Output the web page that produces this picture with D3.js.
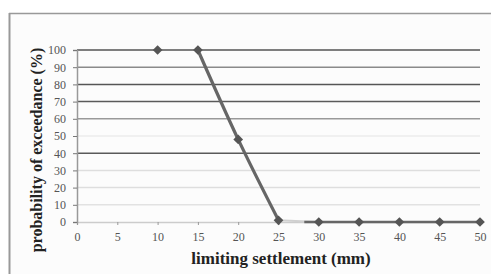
<!DOCTYPE html>
<html><head><meta charset="utf-8">
<script src="https://cdn.jsdelivr.net/npm/d3@7"></script>
<style>html,body{margin:0;padding:0;background:#fff;}svg{display:block;}</style>
</head><body>
<script>
const settlement = [10, 15, 20, 25, 30, 35, 40, 45, 50];
const probability = [100, 100, 48, 1, 0, 0, 0, 0, 0];
const xTicks = [0, 5, 10, 15, 20, 25, 30, 35, 40, 45, 50];
const yTicks = [0, 10, 20, 30, 40, 50, 60, 70, 80, 90, 100];
const gridColors = {100:"#555",90:"#8a8a8a",80:"#555",70:"#5a5a5a",60:"#999",50:"#ececec",40:"#5a5a5a",30:"#dedede",20:"#dedede",10:"#e2e2e2"};

const W = 491, H = 274;
const svg = d3.select("body").append("svg").attr("width", W).attr("height", H);
svg.append("rect").attr("x",9).attr("y",13).attr("width",W-9).attr("height",H-13).attr("fill","#fcfcfc");
svg.append("line").attr("x1",9).attr("x2",W).attr("y1",13.5).attr("y2",13.5).attr("stroke","#999").attr("stroke-width",1.5);
svg.append("line").attr("x1",9.5).attr("x2",9.5).attr("y1",13).attr("y2",H).attr("stroke","#999").attr("stroke-width",2);

const x = d3.scaleLinear().domain([0,50]).range([77,480]);
const y = d3.scaleLinear().domain([0,100]).range([222,50]);

// gridlines
svg.append("g").selectAll("line").data(yTicks.filter(d=>d>0)).join("line")
  .attr("x1",x(0)).attr("x2",x(50)).attr("y1",d=>y(d)).attr("y2",d=>y(d))
  .attr("stroke",d=>gridColors[d]).attr("stroke-width",1.5);

// axes
const font = "'Liberation Serif','DejaVu Serif',serif";
const gx = svg.append("g").attr("transform",`translate(0,${y(0)})`)
  .call(d3.axisBottom(x).tickValues(xTicks).tickSize(3).tickPadding(7));
gx.attr("font-family",font).attr("font-size",12);
gx.select(".domain").attr("stroke","#ccc").attr("stroke-width",1.5);
gx.selectAll(".tick line").attr("stroke","#999");
gx.selectAll("text").attr("fill","#555");

const gy = svg.append("g").attr("transform",`translate(${x(0)},0)`)
  .call(d3.axisLeft(y).tickValues(yTicks).tickSize(4).tickPadding(7));
gy.attr("font-family",font).attr("font-size",12);
gy.select(".domain").attr("stroke","#999").attr("stroke-width",1.5);
gy.selectAll(".tick line").attr("stroke","#777");
gy.selectAll("text").attr("fill","#555");

// lines
const pts = settlement.map((s,i)=>[s, probability[i]]);
const lineSmooth = d3.line().x(d=>x(d[0])).y(d=>y(d[1])).curve(d3.curveCardinal.tension(0));
svg.append("path").attr("d", lineSmooth(pts.slice(1,4))).attr("fill","none").attr("stroke","#666").attr("stroke-width",3.2).attr("stroke-linecap","round");
const lineStraight = d3.line().x(d=>x(d[0])).y(d=>y(d[1]));
svg.append("path").attr("d", lineStraight(pts.slice(3,5))).attr("fill","none").attr("stroke","#d0d0d0").attr("stroke-width",2);
svg.append("path").attr("d", lineStraight(pts.slice(4))).attr("fill","none").attr("stroke","#666").attr("stroke-width",2.5);
svg.append("path").attr("d", `M${x(28.2)},${y(0)}L${x(30)},${y(0)}`).attr("fill","none").attr("stroke","#666").attr("stroke-width",2.5);

// markers
svg.append("g").selectAll("path").data(pts).join("path")
  .attr("transform",d=>`translate(${x(d[0])},${y(d[1])})`)
  .attr("d", d3.symbol(d3.symbolDiamond2, 60))
  .attr("fill","#555");

// titles
svg.append("text").attr("x",281).attr("y",264).attr("text-anchor","middle")
  .attr("font-family",font).attr("font-weight","bold").attr("font-size",17).attr("fill","#222")
  .text("limiting settlement (mm)");
svg.append("text").attr("transform","translate(42,150) rotate(-90)").attr("text-anchor","middle")
  .attr("font-family",font).attr("font-weight","bold").attr("font-size",16).attr("fill","#222")
  .text("probability of exceedance (%)");
</script>
</body></html>
